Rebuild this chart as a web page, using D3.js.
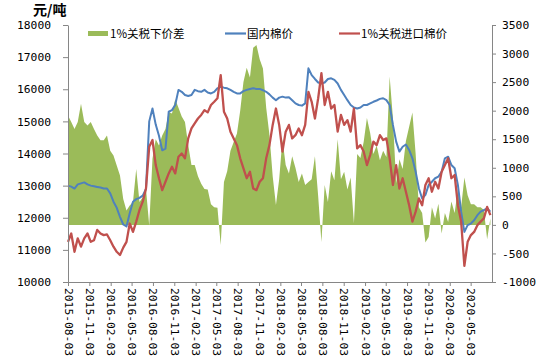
<!DOCTYPE html>
<html><head><meta charset="utf-8">
<script src="https://cdn.jsdelivr.net/npm/d3@7"></script>
<style>
html,body{margin:0;padding:0;background:#fff;}
svg{display:block;}
</style></head>
<body>
<svg id="chart" width="545" height="360"></svg>
<script>
// ---- data ----
const startDate = "2015-08-03";
const stepDays = 14;
const axisStart = "2015-08-03";
const axisEnd = "2020-08-03";

const seriesNames = ["1%关税下价差", "国内棉价", "1%关税进口棉价"];

const domesticPrice = [
13000,12970,12910,13040,13070,13100,13040,13000,12980,12960,
12940,12910,12910,12760,12500,12310,12030,11790,11730,12140,
12500,12580,12620,12690,12900,15000,15400,14900,14550,14100,
14150,15300,15350,15510,15980,15920,15820,15790,15820,15980,
15940,15920,15980,15900,15870,15920,16030,16080,16050,16030,
15980,15920,15870,15870,15940,15980,16010,16030,16010,16010,
15970,15920,15840,15740,15660,15740,15770,15740,15750,15660,
15560,15510,15490,15560,16650,16440,16320,16210,16180,16210,
16320,16340,16290,16180,15980,15820,15660,15510,15430,15400,
15430,15510,15510,15560,15610,15650,15700,15720,15660,15510,
14890,14370,14060,14210,14280,14110,13850,13430,12910,12600,
12710,13020,13120,13230,13280,13430,13850,13900,13640,13540,
13020,12190,11560,11770,11820,11920,12080,12190,12240,12290,
12190];

const importPrice = [
11250,11510,10940,11360,11100,11360,11510,11250,11300,11620,
11510,11460,11480,11300,11100,10940,10840,11070,11250,11820,
11560,11880,12240,12500,12910,14210,14420,13640,13230,12860,
13120,13380,13590,13380,13900,14000,13850,14470,14780,14940,
15090,15200,15350,15280,15510,15610,15720,16440,15300,15090,
14680,14470,14260,13850,13540,13230,13430,12910,12860,13120,
13230,13850,14260,14890,15400,14890,14060,14680,14890,14470,
14570,14780,14570,14890,15920,15610,15090,15720,16500,15510,
15920,15400,15510,14680,15200,14890,15040,14680,15400,14160,
14260,14060,13640,13950,14370,14260,14570,14420,14470,13850,
13020,13640,12910,13230,12810,12390,11880,12190,12600,12390,
13020,13230,12810,13120,12910,13430,13640,13850,13230,13330,
12390,11880,10500,11250,11460,11560,11770,11880,11980,12340,
12080];

const priceSpread = [
1915,1800,1680,1800,2120,1800,1740,1800,1680,1565,
1480,1480,1565,1300,1215,1040,865,455,250,340,
400,980,400,485,630,-10,1160,1500,1390,1565,
1680,1975,1950,2200,2050,1900,1800,1400,1050,1050,
850,720,630,620,360,310,300,-350,750,940,
1300,1450,1600,2000,2500,2750,2580,3100,3150,2900,
2740,2050,1580,850,350,800,1500,1050,900,1200,
1000,750,900,700,750,800,1200,500,-300,700,
400,940,780,1500,800,930,620,830,30,1240,
1170,1450,1870,1610,1240,1390,1130,1300,1190,2600,
1870,730,1150,980,1470,1720,1970,1240,310,210,
-310,-210,310,110,370,-150,210,50,410,210,
630,310,830,520,360,360,310,310,260,-250,
110];

const xTickLabels = ["2015-08-03","2015-11-03","2016-02-03","2016-05-03","2016-08-03",
"2016-11-03","2017-02-03","2017-05-03","2017-08-03","2017-11-03","2018-02-03",
"2018-05-03","2018-08-03","2018-11-03","2019-02-03","2019-05-03","2019-08-03",
"2019-11-03","2020-02-03","2020-05-03"];
const leftTicks = [10000,11000,12000,13000,14000,15000,16000,17000,18000];
const rightTicks = [-1000,-500,0,500,1000,1500,2000,2500,3000,3500];
const leftUnit = "元/吨";

// ---- layout ----
const parse = d3.timeParse("%Y-%m-%d");
const t0 = parse(startDate);
const dates = domesticPrice.map((_, i) => d3.timeDay.offset(t0, i * stepDays));

const plot = {left: 68, right: 492, top: 25, bottom: 282};
const svg = d3.select("#chart");

const x = d3.scaleTime().domain([parse(axisStart), parse(axisEnd)]).range([plot.left, plot.right]);
const yL = d3.scaleLinear().domain([10000, 18000]).range([plot.bottom, plot.top]);
const yR = d3.scaleLinear().domain([-1000, 3500]).range([plot.bottom, plot.top]);

const colors = {spread: "#9BBB59", dom: "#4F81BD", imp: "#C0504D", axis: "#868686"};
const numFont = "'DejaVu Sans Mono', monospace";
const cjkFont = "'Noto Sans CJK SC', sans-serif";

// area
const spreadData = priceSpread.map((v, i) => ({d: dates[i], v}));
svg.append("path")
  .datum(spreadData)
  .attr("fill", colors.spread)
  .attr("d", d3.area().x(p => x(p.d)).y0(yR(0)).y1(p => yR(p.v)));

// lines
const line = d3.line().x(p => x(p.d)).y(p => yL(p.v));
svg.append("path")
  .datum(domesticPrice.map((v, i) => ({d: dates[i], v})))
  .attr("fill", "none").attr("stroke", colors.dom).attr("stroke-width", 2)
  .attr("stroke-linejoin", "round")
  .attr("d", line);
svg.append("path")
  .datum(importPrice.map((v, i) => ({d: dates[i], v})))
  .attr("fill", "none").attr("stroke", colors.imp).attr("stroke-width", 2.3)
  .attr("stroke-linejoin", "round")
  .attr("d", line);

// axes
function styleAxis(g) {
  g.selectAll("path.domain").attr("stroke", colors.axis);
  g.selectAll(".tick line").attr("stroke", colors.axis);
  g.selectAll(".tick text").attr("fill", "#000").style("font-family", numFont).style("font-size", "11.3px");
}
const gL = svg.append("g").attr("transform", `translate(${plot.left},0)`)
  .call(d3.axisLeft(yL).tickValues(leftTicks).tickSize(5).tickSizeOuter(0).tickPadding(12).tickFormat(d3.format("d")));
styleAxis(gL);
const gR = svg.append("g").attr("transform", `translate(${plot.right},0)`)
  .call(d3.axisRight(yR).tickValues(rightTicks).tickSize(4).tickSizeOuter(0).tickPadding(6).tickFormat(d => d < 0 ? "-" + Math.abs(d) : String(d)));
styleAxis(gR);

const gB = svg.append("g").attr("transform", `translate(0,${plot.bottom})`)
  .call(d3.axisBottom(x).tickValues(xTickLabels.map(parse)).tickSize(4).tickSizeOuter(0).tickFormat(d3.timeFormat("%Y-%m-%d")));
gB.selectAll("path.domain").attr("stroke", colors.axis);
gB.selectAll(".tick line").attr("stroke", colors.axis);
gB.selectAll(".tick text")
  .attr("fill", "#000")
  .style("font-family", numFont).style("font-size", "11.3px")
  .attr("text-anchor", "start")
  .attr("transform", "translate(0,6) rotate(90)")
  .attr("x", 0).attr("y", 0).attr("dy", "0.35em");

// unit title
svg.append("text").attr("x", 33).attr("y", 15)
  .style("font-family", cjkFont).style("font-size", "14px").style("font-weight", "bold")
  .text(leftUnit);

// legend
const lg = svg.append("g").style("font-family", cjkFont).style("font-size", "11.5px");
lg.append("rect").attr("x", 88).attr("y", 31).attr("width", 20).attr("height", 5).attr("fill", colors.spread);
lg.append("text").attr("x", 110).attr("y", 33.5).attr("dy", "0.35em").text(seriesNames[0]);
lg.append("line").attr("x1", 225).attr("x2", 246).attr("y1", 33.5).attr("y2", 33.5).attr("stroke", colors.dom).attr("stroke-width", 2.2);
lg.append("text").attr("x", 247).attr("y", 33.5).attr("dy", "0.35em").text(seriesNames[1]);
lg.append("line").attr("x1", 339).attr("x2", 360).attr("y1", 33.5).attr("y2", 33.5).attr("stroke", colors.imp).attr("stroke-width", 2.2);
lg.append("text").attr("x", 361).attr("y", 33.5).attr("dy", "0.35em").text(seriesNames[2]);
</script>
</body></html>
